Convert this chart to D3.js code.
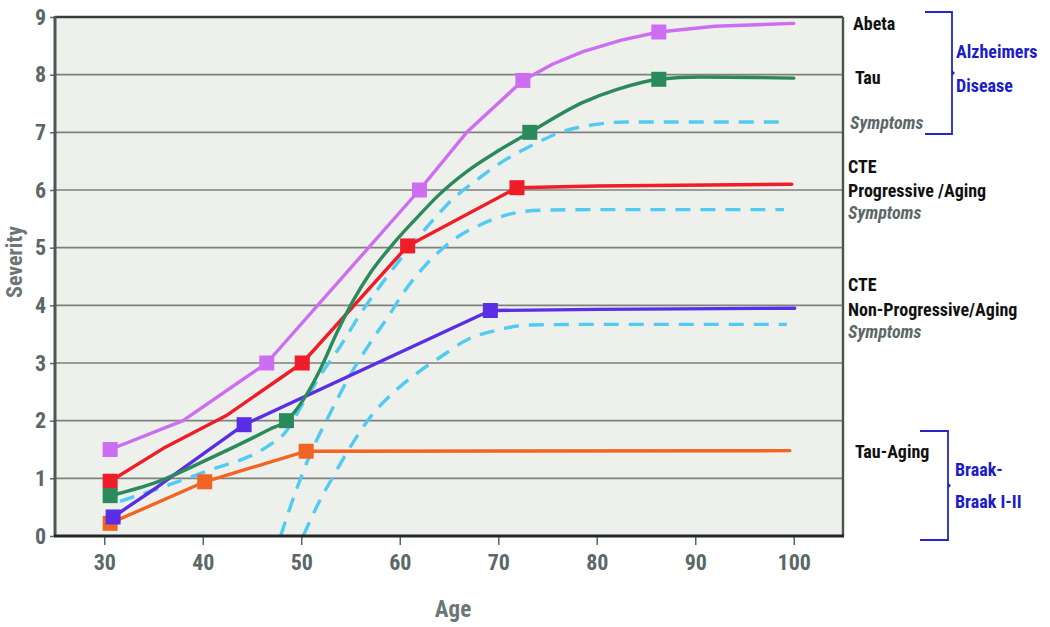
<!DOCTYPE html>
<html><head><meta charset="utf-8">
<script src="https://cdn.jsdelivr.net/npm/d3@7"></script>
<style>
html,body{margin:0;padding:0;background:#fff;}
svg{display:block;}
</style></head>
<body>
<svg id="chart" width="1050" height="627"></svg>
<script>
// ---------- data ----------
const xTicks = [30, 40, 50, 60, 70, 80, 90, 100];
const yTicks = [0, 1, 2, 3, 4, 5, 6, 7, 8, 9];

const abetaLine = [[30.6,1.5],[38,2.0],[46.5,3.0],[62,6.0],[66.8,7.0],[72.5,7.9],[75.5,8.18],[78.6,8.4],[82.5,8.6],[86.3,8.74],[92,8.84],[100,8.89]];
const abetaMarks = [[30.6,1.5],[46.5,3.0],[62,6.0],[72.5,7.9],[86.3,8.74]];

const tauLine = [[30.6,0.7],[35.4,0.94],[40.4,1.32],[46.8,1.85],[48.5,2.0],[50.2,2.36],[51.9,2.88],[53.6,3.52],[55.3,4.09],[57,4.56],[59.5,5.1],[61.8,5.53],[64,5.92],[66.8,6.32],[70,6.68],[73.2,7.0],[78.6,7.52],[82,7.74],[86.3,7.92],[90.5,7.96],[100,7.94]];
const tauMarks = [[30.6,0.7],[48.5,2.0],[73.2,7.0],[86.3,7.92]];

const cteProgLine = [[30.6,0.95],[36,1.52],[42.5,2.1],[50.1,3.0],[60.8,5.03],[71.9,6.04],[80,6.07],[99.8,6.1]];
const cteProgMarks = [[30.6,0.95],[50.1,3.0],[60.8,5.03],[71.9,6.04]];

const cteNonProgLine = [[30.9,0.33],[35.4,0.85],[38.7,1.26],[44.2,1.93],[69.2,3.91],[80,3.93],[100.1,3.95]];
const cteNonProgMarks = [[30.9,0.33],[44.2,1.93],[69.2,3.91]];

const tauAgingLine = [[30.6,0.22],[40.2,0.94],[50.5,1.47],[99.6,1.48]];
const tauAgingMarks = [[30.6,0.22],[40.2,0.94],[50.5,1.47]];

const adSymptoms = [[31.6,0.6],[40,1.1],[46.8,1.58],[48.3,1.78],[50,2.25],[52,2.8],[54,3.3],[56,3.85],[58.5,4.45],[61,5.0],[63.5,5.5],[65,5.78],[67.8,6.17],[70.5,6.5],[73.5,6.78],[76.3,7.0],[79.6,7.13],[83,7.18],[99.3,7.18]];
const cteProgSymptoms = [[47.9,0],[49.5,0.8],[51,1.45],[53,2.15],[55,2.8],[57,3.35],[59,3.85],[60.3,4.2],[62.8,4.73],[65.4,5.13],[68.1,5.39],[70.9,5.57],[74.2,5.65],[80,5.66],[99,5.66]];
const cteNonProgSymptoms = [[50.2,0],[51.9,0.62],[53.2,1.02],[55,1.55],[57,2.06],[59.3,2.48],[61.8,2.83],[64.1,3.1],[66.8,3.4],[69.9,3.57],[73.2,3.66],[80,3.67],[99.3,3.67]];

const xTitle = "Age";
const yTitle = "Severity";

// ---------- drawing ----------
const svg = d3.select("#chart");
const FONT = "'Liberation Sans Narrow','Arial Narrow','Roboto Condensed','Liberation Sans',Arial,sans-serif";
const L = 55, R = 843, T = 17, B = 536;
const x = d3.scaleLinear().domain([25, 105]).range([L, R]);
const y = d3.scaleLinear().domain([0, 9]).range([B, T]);

svg.append("rect").attr("x", L).attr("y", T).attr("width", R - L).attr("height", B - T).attr("fill", "#eef0eb");

// gridlines
svg.append("g").selectAll("line").data(yTicks.filter(d => d > 0 && d < 9)).join("line")
  .attr("x1", L).attr("x2", R).attr("y1", d => y(d)).attr("y2", d => y(d))
  .attr("stroke", "#7e807e").attr("stroke-width", 1.6);

svg.append("defs").append("clipPath").attr("id", "plotclip")
  .append("rect").attr("x", L).attr("y", T).attr("width", R - L).attr("height", B - T);

const plot = svg.append("g").attr("clip-path", "url(#plotclip)");

const lineMono = d3.line().x(d => x(d[0])).y(d => y(d[1])).curve(d3.curveMonotoneX);
const lineLin = d3.line().x(d => x(d[0])).y(d => y(d[1]));

const DASH = "#52cbf2";
[adSymptoms, cteProgSymptoms, cteNonProgSymptoms].forEach(s => {
  plot.append("path").datum(s).attr("d", lineMono).attr("fill", "none")
    .attr("stroke", DASH).attr("stroke-width", 3.4).attr("stroke-dasharray", "15,10");
});

const series = [
  {line: tauAgingLine, marks: tauAgingMarks, color: "#f26424", gen: lineLin},
  {line: cteNonProgLine, marks: cteNonProgMarks, color: "#5a2ee6", gen: lineLin},
  {line: cteProgLine, marks: cteProgMarks, color: "#ee1d27", gen: lineLin},
  {line: tauLine, marks: tauMarks, color: "#2a8a5c", gen: lineMono},
  {line: abetaLine, marks: abetaMarks, color: "#cd6ef2", gen: lineLin}
];
series.forEach(s => {
  plot.append("path").datum(s.line).attr("d", s.gen).attr("fill", "none")
    .attr("stroke", s.color).attr("stroke-width", 3.4).attr("stroke-linejoin", "round").attr("stroke-linecap", "round");
});
series.forEach(s => {
  svg.append("g").selectAll("rect").data(s.marks).join("rect")
    .attr("x", d => x(d[0]) - 7.5).attr("y", d => y(d[1]) - 7.5)
    .attr("width", 15).attr("height", 15).attr("fill", s.color);
});

// axes
const xAxis = svg.append("g").attr("transform", `translate(0,${B})`)
  .call(d3.axisBottom(x).tickValues(xTicks).tickSize(9).tickSizeOuter(0).tickPadding(9));
xAxis.select(".domain").remove();
xAxis.selectAll(".tick line").attr("stroke", "#5b6566").attr("stroke-width", 1.5);
xAxis.selectAll("text").attr("font-family", FONT).attr("font-size", 22).attr("font-weight", "bold").attr("fill", "#5b6768");

const yAxis = svg.append("g").attr("transform", `translate(${L},0)`)
  .call(d3.axisLeft(y).tickValues(yTicks).tickSize(5).tickSizeOuter(0).tickPadding(4).tickFormat(d3.format("d")));
yAxis.select(".domain").remove();
yAxis.selectAll(".tick line").attr("stroke", "#5b6566").attr("stroke-width", 1.5);
yAxis.selectAll("text").attr("font-family", FONT).attr("font-size", 22).attr("font-weight", "bold").attr("fill", "#5b6768");

// frame
svg.append("line").attr("x1", L).attr("x2", R).attr("y1", T).attr("y2", T).attr("stroke", "#3a3d3c").attr("stroke-width", 2.6);
svg.append("line").attr("x1", R).attr("x2", R).attr("y1", T).attr("y2", B).attr("stroke", "#4d5352").attr("stroke-width", 2.4);
svg.append("line").attr("x1", L).attr("x2", L).attr("y1", T - 1).attr("y2", B).attr("stroke", "#4d5655").attr("stroke-width", 3);
svg.append("line").attr("x1", L - 1).attr("x2", R + 1).attr("y1", B).attr("y2", B).attr("stroke", "#232726").attr("stroke-width", 3.2);

// axis titles
svg.append("text").attr("x", (L + R) / 2 + 4).attr("y", 617).attr("text-anchor", "middle")
  .attr("font-family", FONT).attr("font-size", 23).attr("font-weight", "bold").attr("fill", "#6b7677").text(xTitle);
svg.append("text").attr("transform", `translate(22,262) rotate(-90)`).attr("text-anchor", "middle")
  .attr("font-family", FONT).attr("font-size", 22).attr("font-weight", "bold").attr("fill", "#6b7677").text(yTitle);

// right annotations
const labels = [
  {t: "Abeta", x: 853, y: 30, c: "#111", it: false, s: 18},
  {t: "Tau", x: 855, y: 84, c: "#111", it: false, s: 18},
  {t: "Symptoms", x: 850, y: 129, c: "#5d6768", it: true, s: 18},
  {t: "CTE", x: 848, y: 173, c: "#111", it: false, s: 18},
  {t: "Progressive /Aging", x: 848, y: 197, c: "#111", it: false, s: 18},
  {t: "Symptoms", x: 848, y: 219, c: "#5d6768", it: true, s: 18},
  {t: "CTE", x: 848, y: 291, c: "#111", it: false, s: 18},
  {t: "Non-Progressive/Aging", x: 848, y: 316, c: "#111", it: false, s: 18},
  {t: "Symptoms", x: 848, y: 338, c: "#5d6768", it: true, s: 18},
  {t: "Tau-Aging", x: 855, y: 458, c: "#111", it: false, s: 18},
  {t: "Alzheimers", x: 956, y: 58, c: "#1c1cc8", it: false, s: 18},
  {t: "Disease", x: 956, y: 92, c: "#1c1cc8", it: false, s: 18},
  {t: "Braak-", x: 955, y: 476, c: "#1c1cc8", it: false, s: 18},
  {t: "Braak I-II", x: 955, y: 508, c: "#1c1cc8", it: false, s: 18}
];
svg.append("g").selectAll("text").data(labels).join("text")
  .attr("x", d => d.x).attr("y", d => d.y).attr("fill", d => d.c)
  .attr("font-family", FONT).attr("font-size", d => d.s).attr("font-weight", "bold")
  .attr("font-style", d => d.it ? "italic" : "normal").text(d => d.t);

function bracket(x0, x1, y0, y1) {
  const ym = (y0 + y1) / 2;
  svg.append("path").attr("d", `M${x0},${y0}H${x1}V${y1}H${x0}`)
    .attr("fill", "none").attr("stroke", "#2626c4").attr("stroke-width", 1.8);
  svg.append("path").attr("d", `M${x1},${ym - 3}L${x1 + 3},${ym}L${x1},${ym + 3}Z`).attr("fill", "#2626c4");
}
bracket(925, 952, 12, 134);
bracket(920, 948, 431, 540);
</script>
</body></html>
